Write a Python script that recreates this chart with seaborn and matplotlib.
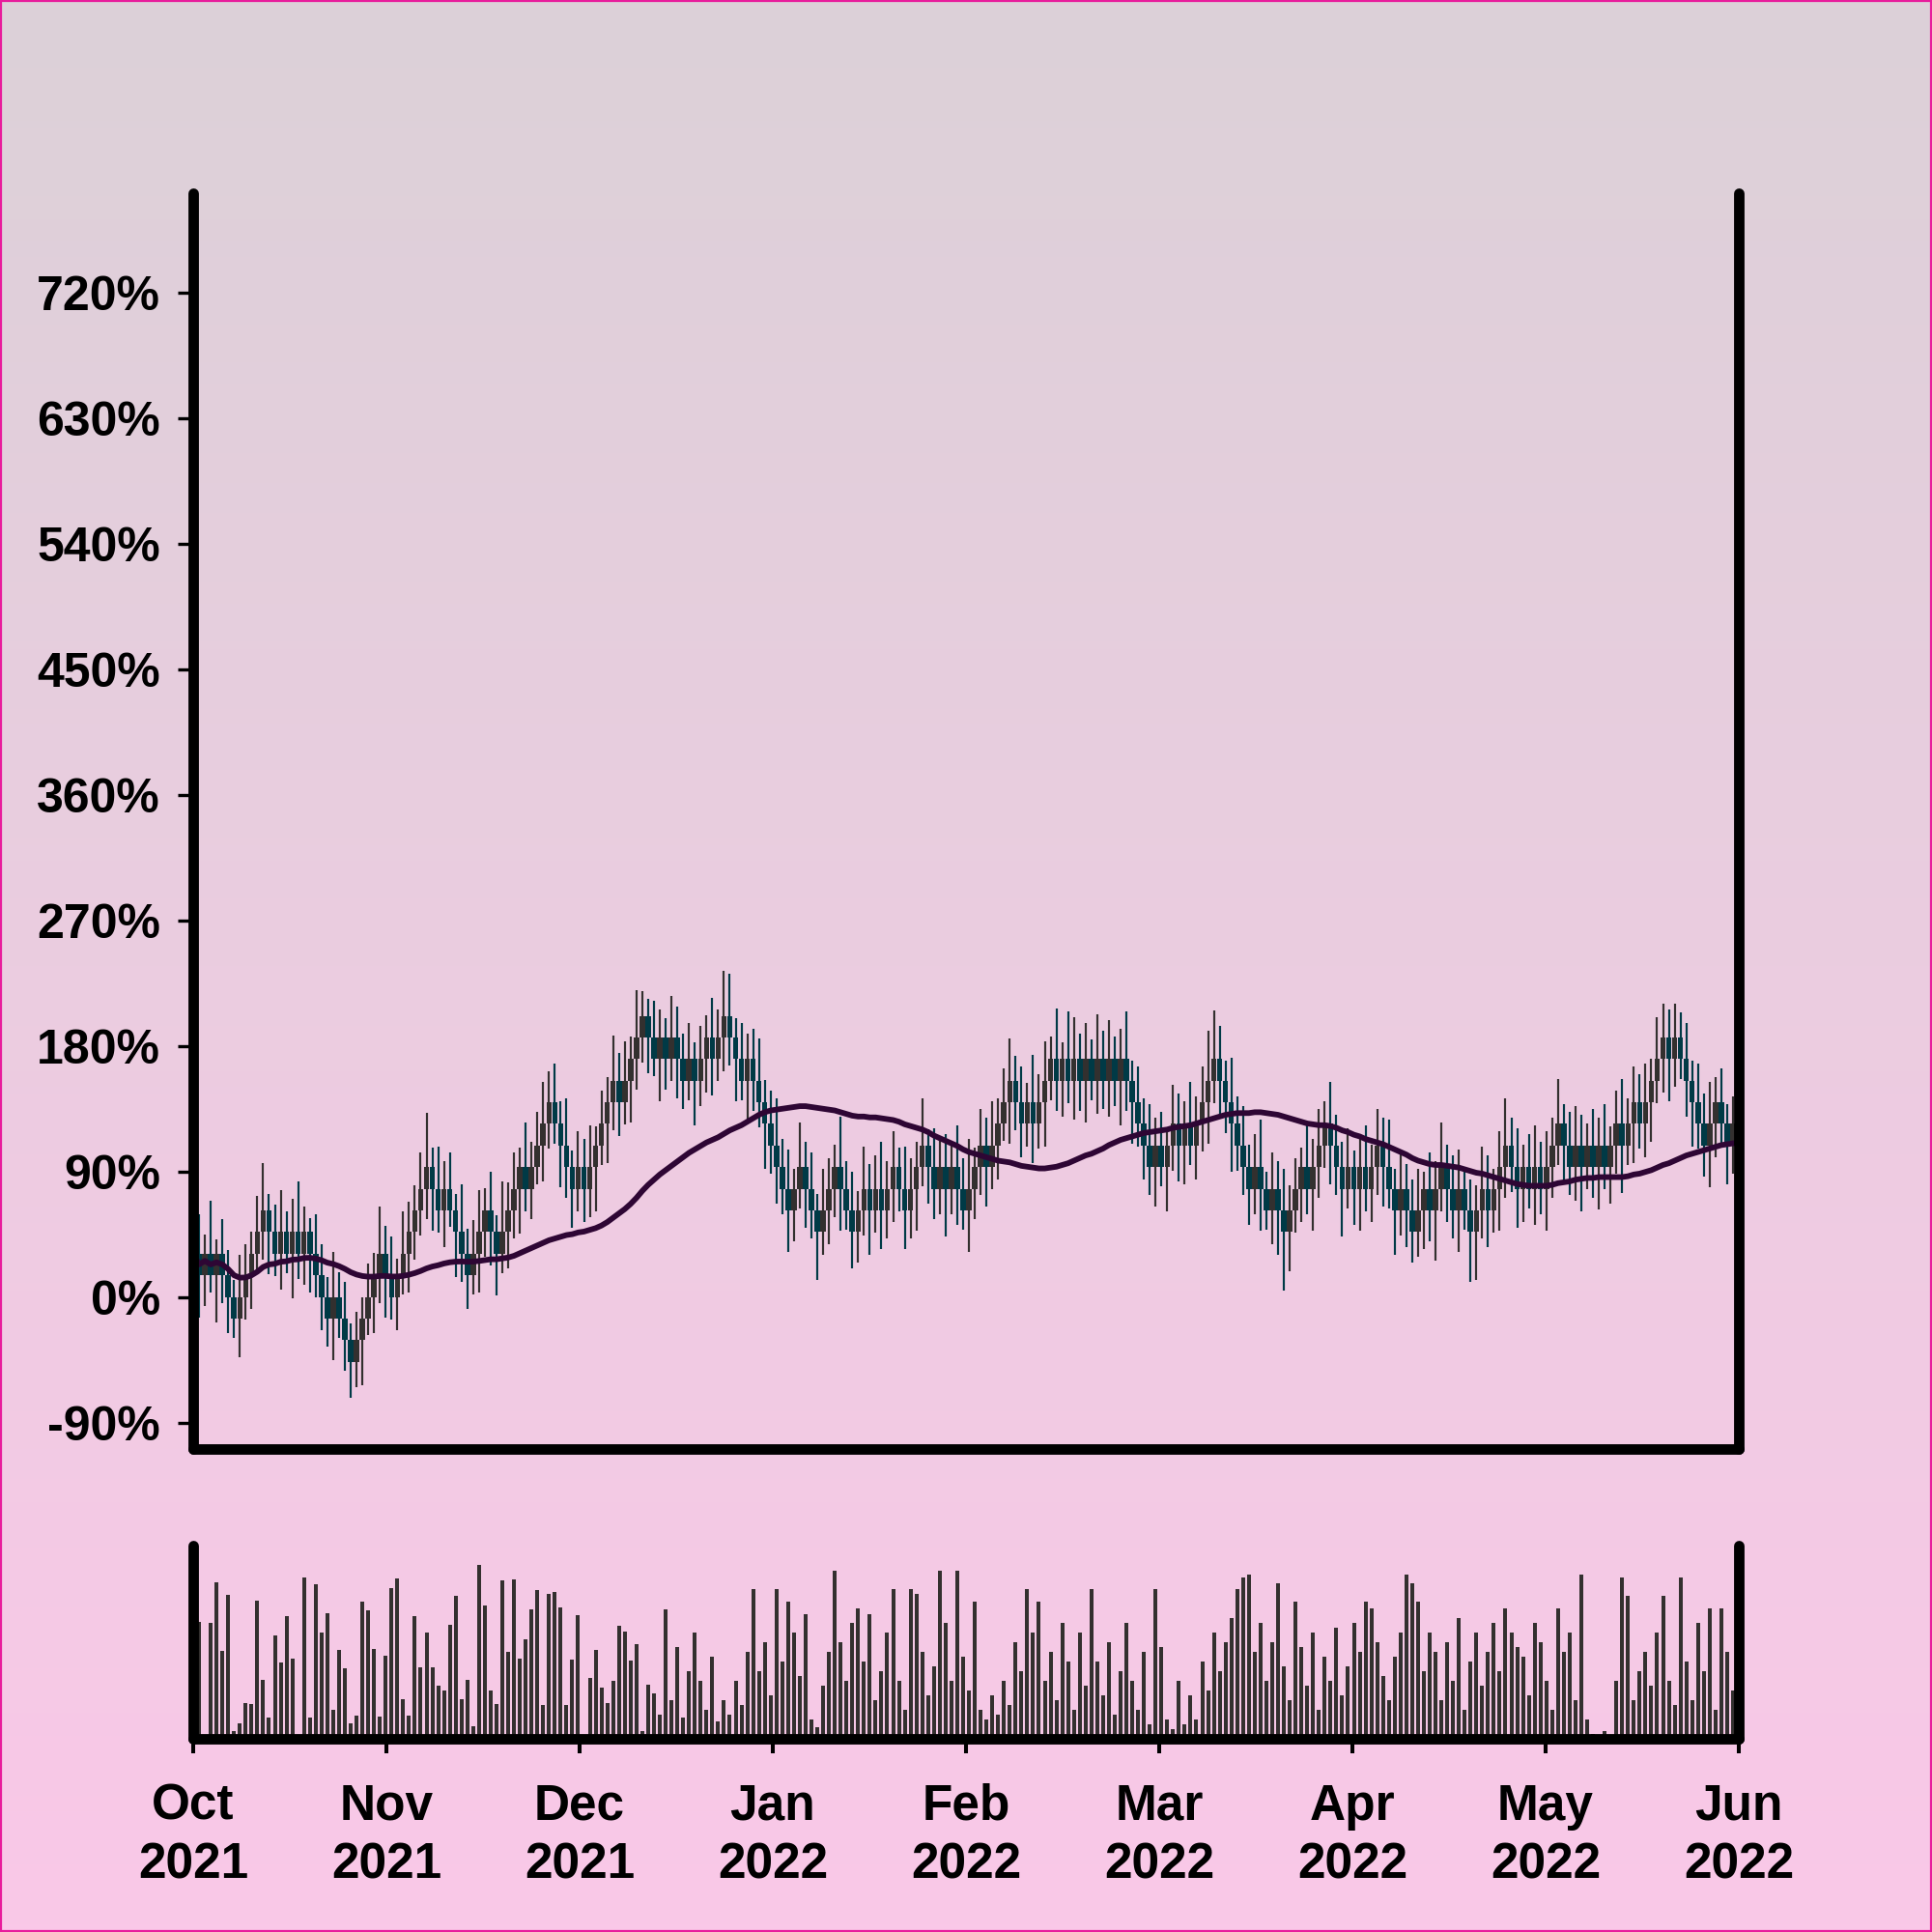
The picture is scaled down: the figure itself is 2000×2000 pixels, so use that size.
import numpy as np
import pandas as pd
import matplotlib
matplotlib.use("Agg")
import matplotlib.pyplot as plt
import seaborn as sns
from matplotlib.colors import LinearSegmentedColormap
from matplotlib.patches import Rectangle

# ---------------- data ----------------
START_DATE = "2021-10-01"
TICK_PCT = 15.5            # price grid step, in % of the first close
first_open_ticks = 1

close_ticks = [
    2, 1, 2, 1, 2, 1, 0, -1, 0, 1,
    2, 3, 4, 3, 2, 3, 2, 3, 2, 3,
    2, 1, 0, -1, 0, -1, -2, -3, -2, -1,
    0, 1, 2, 1, 0, 1, 2, 3, 4, 5,
    6, 5, 4, 5, 4, 3, 2, 1, 2, 3,
    4, 3, 2, 3, 4, 5, 6, 5, 6, 7,
    8, 9, 8, 7, 6, 5, 6, 5, 6, 7,
    8, 9, 10, 9, 10, 11, 12, 13, 12, 11,
    12, 11, 12, 11, 10, 11, 10, 11, 12, 11,
    12, 13, 12, 11, 10, 11, 10, 9, 8, 7,
    6, 5, 4, 5, 6, 5, 4, 3, 4, 5,
    6, 5, 4, 3, 4, 5, 4, 5, 4, 5,
    6, 5, 4, 5, 6, 7, 6, 5, 6, 5,
    6, 5, 4, 5, 6, 7, 6, 7, 8, 9,
    10, 9, 8, 9, 8, 9, 10, 11, 10, 11,
    10, 11, 10, 11, 10, 11, 10, 11, 10, 11,
    10, 9, 8, 7, 6, 7, 6, 7, 8, 7,
    8, 7, 8, 9, 10, 11, 10, 9, 8, 7,
    6, 5, 6, 5, 4, 5, 4, 3, 4, 5,
    6, 5, 6, 7, 8, 7, 6, 5, 6, 5,
    6, 5, 6, 7, 6, 5, 4, 5, 4, 3,
    4, 5, 4, 5, 6, 5, 4, 5, 4, 3,
    4, 5, 4, 5, 6, 7, 6, 5, 6, 5,
    6, 5, 6, 7, 8, 7, 6, 7, 6, 7,
    6, 7, 6, 7, 8, 7, 8, 9, 8, 9,
    10, 11, 12, 11, 12, 11, 10, 9, 8, 7,
    8, 9, 8, 7, 8, 7,
]

upper_shadow = [
    20, 28, 14, 38, 10, 25, 18, 12, 30, 22,
    16, 26, 34, 12, 20, 30, 15, 24, 36, 18,
    10, 28, 22, 14, 32, 18, 26, 12, 20, 15,
    24, 16, 34, 20, 28, 12, 30, 22, 18, 26,
    39, 14, 30, 20, 26, 12, 34, 18, 24, 30,
    16, 28, 12, 36, 20, 26, 14, 32, 18, 24,
    30, 22, 28, 16, 34, 12, 26, 20, 30, 14,
    24, 18, 32, 20, 28, 16, 34, 18, 12, 26,
    20, 14, 30, 22, 18, 26, 12, 24, 16, 28,
    20, 32, 30, 14, 26, 18, 22, 30, 16, 24,
    34, 20, 28, 14, 32, 18, 26, 12, 30, 22,
    16, 36, 20, 28, 14, 30, 18, 24, 34, 20,
    26, 14, 30, 22, 18, 34, 12, 28, 20, 24,
    16, 30, 22, 36, 14, 26, 20, 32, 18, 24,
    30, 18, 26, 14, 34, 20, 28, 16, 36, 12,
    34, 30, 18, 26, 14, 32, 20, 28, 16, 22,
    34, 14, 26, 18, 30, 20, 24, 12, 28, 22,
    16, 30, 20, 26, 36, 35, 24, 14, 32, 20,
    28, 16, 24, 34, 12, 26, 20, 30, 18, 22,
    14, 32, 20, 26, 16, 30, 22, 18, 28, 12,
    24, 30, 16, 26, 20, 34, 14, 28, 18, 22,
    30, 12, 26, 20, 32, 16, 24, 28, 14, 22,
    18, 30, 24, 14, 26, 34, 20, 28, 16, 24,
    30, 18, 26, 20, 32, 14, 24, 28, 22, 16,
    26, 20, 30, 14, 24, 32, 18, 26, 20, 28,
    16, 30, 24, 20, 24, 18, 26, 14, 28, 22,
    30, 18, 24, 14, 20, 16,
]

lower_shadow = [
    18, 30, 22, 12, 34, 20, 26, 14, 28, 16,
    24, 12, 20, 30, 16, 26, 14, 32, 18, 22,
    28, 16, 24, 20, 30, 14, 22, 26, 18, 32,
    12, 26, 20, 30, 16, 24, 14, 28, 20, 18,
    22, 30, 16, 26, 12, 32, 20, 24, 14, 28,
    18, 24, 30, 14, 26, 20, 32, 16, 22, 12,
    26, 18, 14, 30, 22, 28, 16, 24, 20, 32,
    14, 28, 20, 24, 16, 30, 22, 18, 26, 12,
    30, 22, 16, 28, 20, 14, 32, 18, 24, 26,
    16, 24, 20, 30, 14, 28, 22, 18, 32, 20,
    26, 18, 30, 22, 14, 28, 20, 34, 16, 24,
    20, 30, 14, 26, 22, 18, 32, 16, 28, 20,
    24, 16, 28, 20, 30, 14, 26, 22, 18, 34,
    18, 26, 14, 30, 22, 20, 28, 16, 24, 12,
    30, 20, 24, 16, 28, 18, 32, 14, 22, 26,
    16, 28, 22, 30, 14, 24, 20, 26, 18, 32,
    22, 30, 16, 24, 20, 28, 14, 32, 18, 26,
    28, 14, 24, 20, 30, 16, 26, 22, 34, 18,
    20, 26, 18, 30, 14, 24, 32, 42, 28, 16,
    24, 18, 30, 22, 16, 28, 20, 34, 14, 26,
    30, 16, 24, 20, 28, 14, 32, 18, 26, 22,
    18, 28, 22, 36, 16, 24, 20, 30, 14, 36,
    34, 20, 26, 16, 30, 22, 18, 28, 24, 14,
    26, 18, 30, 22, 14, 28, 20, 24, 32, 16,
    22, 30, 16, 26, 20, 34, 14, 28, 18, 24,
    28, 16, 24, 30, 20, 14, 26, 32, 18, 22,
    30, 24, 16, 28, 20, 26,
]

volume = [
    90, 121, 2, 120, 162, 91, 149, 8, 16, 37,
    36, 143, 61, 22, 107, 79, 127, 83, 2, 167,
    22, 160, 110, 130, 30, 92, 73, 16, 24, 142,
    133, 93, 23, 86, 156, 166, 41, 24, 127, 74,
    110, 74, 55, 50, 118, 148, 41, 61, 13, 180,
    138, 50, 36, 164, 90, 165, 83, 103, 134, 154,
    35, 150, 152, 136, 35, 82, 128, 2, 63, 92,
    53, 37, 60, 117, 111, 81, 98, 8, 56, 47,
    25, 134,
    40, 95, 22, 70, 110, 60, 30, 85, 18, 40,
    25, 60, 35, 90, 155, 70, 100, 45, 155, 80,
    142, 110, 65, 129, 20, 12, 55, 90, 174, 100,
    60, 120, 135, 80, 129, 40, 70, 110, 155, 60,
    30, 155, 150, 90, 45, 75, 174, 120, 60, 174,
    85, 50, 142, 30, 20, 45, 25, 60, 35, 100,
    70, 155, 110, 142, 60, 90, 40, 120, 80, 30,
    110, 55, 155, 80, 45, 100, 25, 70, 120, 60,
    30, 90, 15, 155, 95, 20, 10, 60, 15, 45,
    20, 80, 50, 110, 70, 100, 125, 155, 167, 170,
    90, 120, 60, 100, 161, 75, 40, 142, 95, 55,
    110, 30, 85, 60, 115, 45, 75, 120, 90, 142,
    135, 100, 65, 40, 85, 110, 170, 161, 142, 70,
    110, 90, 40, 100, 60, 125, 30, 80, 110, 55,
    90, 120, 70, 135, 110, 95, 85, 45, 120, 100,
    60, 30, 135, 90, 110, 40, 170, 20, 5, 3,
    8, 2, 60, 167, 148, 40, 70, 90, 55, 110,
    148, 60, 35, 167, 80, 40, 120, 70, 135, 30,
    135, 90, 50, 110,
]

x_tick_labels = ["Oct\n2021", "Nov\n2021", "Dec\n2021", "Jan\n2022", "Feb\n2022",
                 "Mar\n2022", "Apr\n2022", "May\n2022", "Jun\n2022"]
y_tick_values = [-90, 0, 90, 180, 270, 360, 450, 540, 630, 720]
MA_WINDOW = 50

# ---------------- styling ----------------
UP_COLOR = "#33302f"
DOWN_COLOR = "#003a46"
MA_COLOR = "#2e0634"
BG_TOP = "#dcd1d8"
BG_BOTTOM = "#fac8e8"
BORDER = "#e81c9c"

sns.set_theme(style="white")
plt.rcParams["font.family"] = ["Liberation Sans", "DejaVu Sans"]
plt.rcParams["font.weight"] = "bold"

n = len(close_ticks)
dates = pd.date_range(START_DATE, periods=n, freq="D")
close = np.array(close_ticks, dtype=float) * TICK_PCT
open_ = np.r_[first_open_ticks * TICK_PCT, close[:-1]]
high = np.maximum(open_, close) + np.array(upper_shadow, dtype=float)
low = np.minimum(open_, close) - np.array(lower_shadow, dtype=float)
xpos = np.arange(n)
df = pd.DataFrame({"x": xpos, "date": dates, "open": open_, "close": close,
                   "high": high, "low": low, "volume": volume})
df["ma"] = df["close"].rolling(MA_WINDOW, min_periods=1).mean()
up = df["close"] > df["open"]
colors = np.where(up, UP_COLOR, DOWN_COLOR)

fig = plt.figure(figsize=(10, 10), dpi=200)
fig.patch.set_facecolor(BG_BOTTOM)

# gradient background
bg = fig.add_axes([0, 0, 1, 1], zorder=-10)
grad = np.linspace(0, 1, 512)[:, None]
bg.imshow(grad, aspect="auto", cmap=LinearSegmentedColormap.from_list("bg", [BG_TOP, BG_BOTTOM]),
          extent=[0, 1, 0, 1], origin="upper")
bg.axis("off")

SPINE_LW = 3.9

# ---- price axes ----
ax = fig.add_axes([0.1, 0.25, 0.8, 0.65])
ax.patch.set_alpha(0)
ax.vlines(df["x"], df["low"], df["high"], colors=colors, linewidth=0.78, zorder=1.5)
ax.bar(df["x"], (df["close"] - df["open"]).abs(), bottom=np.minimum(df["open"], df["close"]),
       width=0.92, color=colors, linewidth=0, zorder=2)
sns.lineplot(data=df, x="x", y="ma", ax=ax, color=MA_COLOR, linewidth=2.1, zorder=2.2)
ax.set_xlim(0, n - 1)
ax.set_ylim(-109, 791)
ax.set_yticks(y_tick_values)
ax.set_yticklabels([f"{v}%" for v in y_tick_values])
ax.set_xticks([])
ax.set_xlabel("")
ax.set_ylabel("")
ax.tick_params(axis="y", left=True, length=5.8, width=1.2, pad=6.5, labelsize=18,
               colors="black")
for s in ["left", "right", "bottom"]:
    ax.spines[s].set_visible(True)
    ax.spines[s].set_linewidth(SPINE_LW)
    ax.spines[s].set_color("black")
    ax.spines[s].set_capstyle("round")
ax.spines["top"].set_visible(False)

# ---- volume axes ----
axv = fig.add_axes([0.1, 0.1, 0.8, 0.1])
axv.patch.set_alpha(0)
axv.bar(df["x"], df["volume"], width=0.66, color=UP_COLOR, linewidth=0, zorder=1)
axv.set_xlim(0, n - 1)
axv.set_ylim(0, 200)
axv.set_yticks([])
axv.set_xticks(np.linspace(0, n - 1, len(x_tick_labels)))
axv.set_xticklabels(x_tick_labels, fontsize=18.5, linespacing=1.32, fontweight="bold")
axv.tick_params(axis="x", bottom=True, length=5.5, width=1.45, pad=11, colors="black")
for s in ["left", "right", "bottom"]:
    axv.spines[s].set_visible(True)
    axv.spines[s].set_linewidth(SPINE_LW)
    axv.spines[s].set_color("black")
    axv.spines[s].set_capstyle("round")
axv.spines["top"].set_visible(False)

# thin border around the figure
fig.patches.append(Rectangle((0.0005, 0.0005), 0.999, 0.999, transform=fig.transFigure,
                             fill=False, edgecolor=BORDER, linewidth=0.8, zorder=10))

fig.savefig("out.png", dpi=200)
